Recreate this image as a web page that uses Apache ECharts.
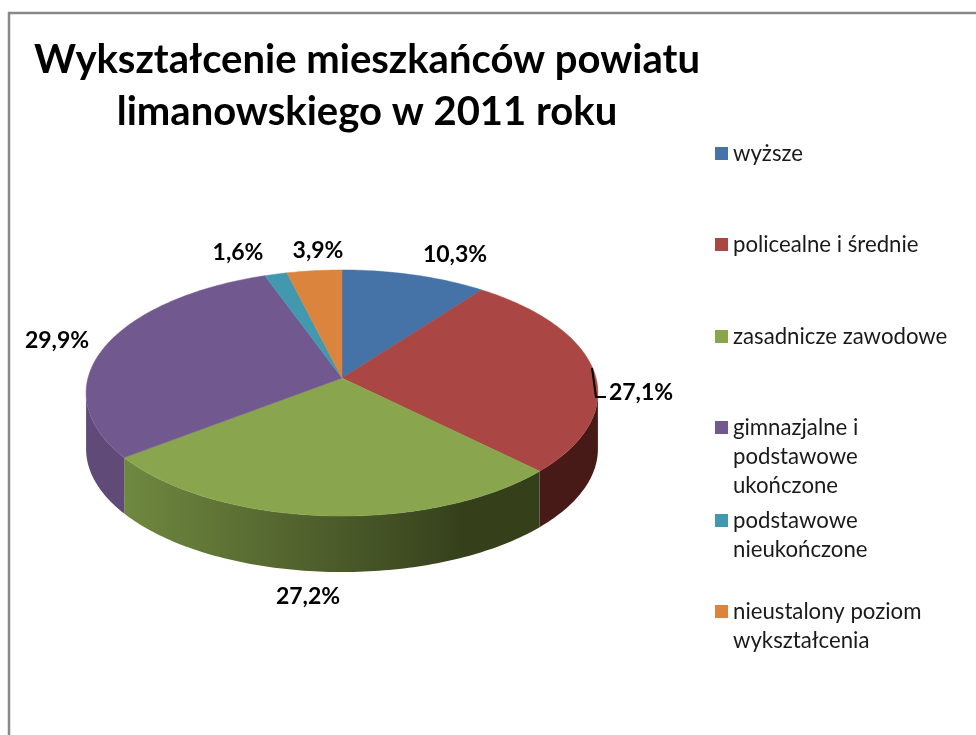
<!DOCTYPE html>
<html>
<head>
    <meta charset="utf-8">
    <title>Wykształcenie mieszkańców powiatu limanowskiego</title>
    <script src="https://cdn.jsdelivr.net/npm/echarts@6/dist/echarts.min.js"></script>
    <style>
        html, body { margin: 0; padding: 0; background: #fff; }
        #chart1 { width: 976px; height: 735px; }
    </style>
</head>
<body>
<div id="chart1"></div>
<script>
    // dane
    var categories = ['wyższe', 'policealne i średnie', 'zasadnicze zawodowe',
        'gimnazjalne i podstawowe ukończone', 'podstawowe nieukończone', 'nieustalony poziom wykształcenia'];
    var values = [10.3, 27.1, 27.2, 29.9, 1.6, 3.9];
    var legendLines = [
        ['wyższe'],
        ['policealne i średnie'],
        ['zasadnicze zawodowe'],
        ['gimnazjalne i', 'podstawowe', 'ukończone'],
        ['podstawowe', 'nieukończone'],
        ['nieustalony poziom', 'wykształcenia']
    ];
    var titleText = 'Wykształcenie mieszkańców powiatu\nlimanowskiego w 2011 roku';

    // kolory
    var colors = ['#4572A7', '#AA4643', '#89A54E', '#71588F', '#4198AF', '#DB843D'];
    var wallStart = ['#2a4465', '#4c1c1a', '#6f8840', '#5f4a78', '#37606e', '#8a5020'];
    var wallEnd = ['#2a4465', '#471a18', '#35401b', '#5f4a78', '#37606e', '#8a5020'];

    // geometria tortu (rzut perspektywiczny)
    var CX = 342, CY = 378, RX = 254, RY = 121.2, K = -0.122, DEPTH = 56;
    var labelPos = [[455, 255], [641, 393], [308, 597], [57, 341], [238, 253], [318, 251]];
    var legendTop = [139, 230, 322, 413, 506, 597];
    var LINE_H = 29;

    function rim(deg, dy) {
        var t = deg * Math.PI / 180;
        var v = -Math.cos(t);
        var d = 1 + K * v;
        return [CX + RX * Math.sin(t) / d, CY + RY * v / d + (dy || 0)];
    }
    function arc(from, to, dy) {
        var pts = [];
        var n = Math.max(1, Math.ceil(Math.abs(to - from)));
        for (var i = 0; i <= n; i++) {
            pts.push(rim(from + (to - from) * i / n, dy));
        }
        return pts;
    }

    var total = values.reduce(function (a, b) { return a + b; }, 0);
    var starts = [];
    values.reduce(function (sum, v, i) { starts[i] = sum / total * 360; return sum + v; }, 0);

    // widoczna część ściany bocznej
    var wallFrom = Math.acos(K) * 180 / Math.PI;
    var wallTo = 360 - wallFrom;

    function renderSlice(params, api) {
        var i = params.seriesIndex;
        var a = starts[i];
        var b = a + api.value(0) / total * 360;
        var children = [];
        var from = Math.max(a, wallFrom), to = Math.min(b, wallTo);
        if (to > from) {
            children.push({
                type: 'polygon',
                shape: { points: arc(from, to, 0).concat(arc(to, from, DEPTH)) },
                style: {
                    fill: {
                        type: 'linear', x: 125, y: 0, x2: 465, y2: 0, global: true,
                        colorStops: [{ offset: 0, color: wallStart[i] }, { offset: 1, color: wallEnd[i] }]
                    }
                }
            });
        }
        children.push({
            type: 'polygon',
            shape: { points: [[CX, CY]].concat(arc(a, b, 0)) },
            style: { fill: colors[i], stroke: colors[i], lineWidth: 0.5 }
        });
        children.push({
            type: 'text',
            style: {
                x: labelPos[i][0], y: labelPos[i][1],
                text: api.value(0).toFixed(1).replace('.', ',') + '%',
                font: 'bold 23px Lato', fill: '#000',
                align: 'center', verticalAlign: 'middle'
            }
        });
        return { type: 'group', children: children };
    }

    // kwadracik legendy przy pierwszej linii tekstu
    function legendIcon(lines) {
        var h = lines * LINE_H, top = (LINE_H - 13) / 2;
        return 'path://M0 ' + top + 'h13v13h-13z M0 0L0 1 M0 ' + h + 'L0 ' + (h - 1);
    }

    var myChart1 = echarts.init(document.getElementById('chart1'), null, { renderer: 'canvas' });
    myChart1.setOption({
        animation: false,
        backgroundColor: '#fff',
        title: {
            text: titleText,
            left: 362, top: 29, textAlign: 'center',
            textStyle: { fontFamily: 'Lato', fontWeight: 'bold', fontSize: 40, lineHeight: 52, color: '#000' }
        },
        legend: categories.map(function (name, i) {
            return {
                data: [name],
                left: 715, top: legendTop[i], padding: 0,
                orient: 'vertical',
                selectedMode: false,
                itemWidth: 13,
                itemHeight: legendLines[i].length * LINE_H,
                icon: legendIcon(legendLines[i].length),
                formatter: function () { return legendLines[i].join('\n'); },
                textStyle: { fontFamily: 'Lato', fontSize: 22.2, lineHeight: LINE_H, color: '#1a1a1a' }
            };
        }),
        graphic: [
            // ramka wykresu
            { type: 'polyline', silent: true, shape: { points: [[9, 735], [9, 13], [976, 13]] },
              style: { stroke: '#888', lineWidth: 2.5, fill: null } },
            // linia odniesienia etykiety 27,1%
            { type: 'polyline', silent: true, z: 10, shape: { points: [[592, 368], [596, 397], [606, 397]] },
              style: { stroke: '#000', lineWidth: 2, fill: null } }
        ],
        series: categories.map(function (name, i) {
            return {
                type: 'custom',
                name: name,
                coordinateSystem: 'none',
                silent: true,
                itemStyle: { color: colors[i] },
                data: [[values[i]]],
                renderItem: renderSlice
            };
        })
    });
</script>
</body>
</html>
